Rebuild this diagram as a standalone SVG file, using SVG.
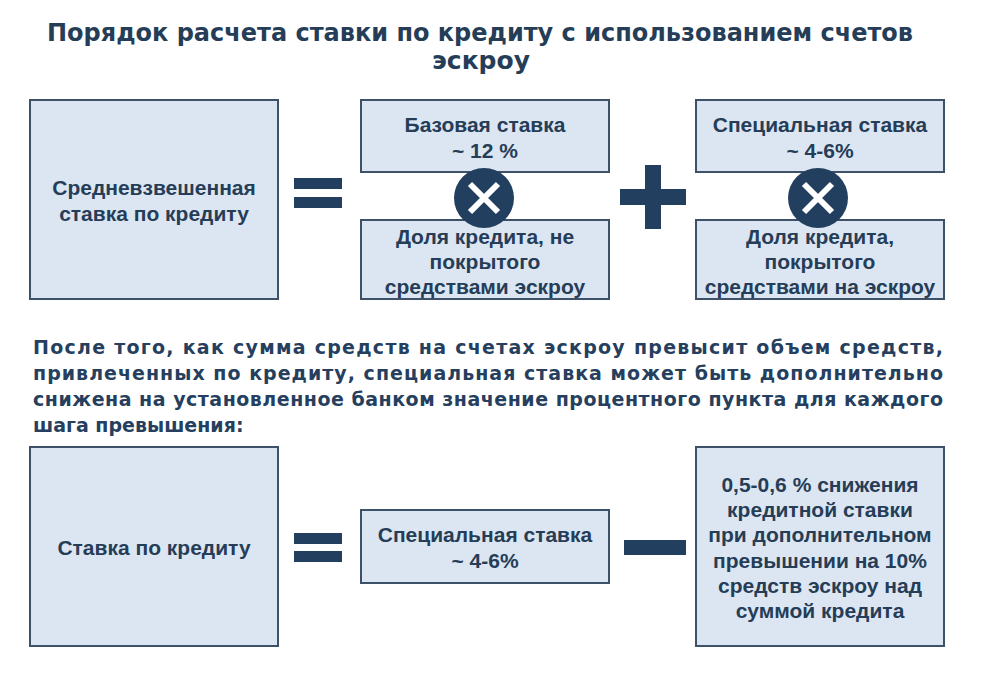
<svg xmlns="http://www.w3.org/2000/svg" width="989" height="688" viewBox="0 0 989 688">
<style>
.bx{fill:#dce6f2;stroke:#3d5169;stroke-width:2}
.bt{font-family:"Liberation Sans",Arial,sans-serif;font-weight:bold;font-size:21px;fill:#263d57;text-anchor:middle}
.ttl{font-family:"DejaVu Sans","Noto Sans",sans-serif;font-weight:bold;font-size:25px;fill:#263d57;text-anchor:middle}
.par{font-family:"DejaVu Sans","Noto Sans",sans-serif;font-weight:bold;font-size:19px;fill:#263f5e}
.op{fill:#223f5f}
.xx{stroke:#ffffff;stroke-width:6;stroke-linecap:butt}
</style>
<rect width="989" height="688" fill="#ffffff"/>
<g id="title">
<text class="ttl" x="480" y="41" textLength="866" lengthAdjust="spacingAndGlyphs">Порядок расчета ставки по кредиту с использованием счетов</text>
<text class="ttl" x="481" y="69">эскроу</text>
</g>
<g id="avg-rate">
<rect class="bx" x="30" y="100" width="248" height="199"/>
<text class="bt" x="154" y="195">Средневзвешенная</text>
<text class="bt" x="154" y="221">ставка по кредиту</text>
</g>
<g id="base-rate">
<rect class="bx" x="361" y="100" width="248" height="72"/>
<text class="bt" x="485" y="132">Базовая ставка</text>
<text class="bt" x="485" y="158">~ 12 %</text>
</g>
<g id="share-uncovered">
<rect class="bx" x="361" y="220" width="248" height="79"/>
<text class="bt" x="485" y="244">Доля кредита, не</text>
<text class="bt" x="485" y="269">покрытого</text>
<text class="bt" x="485" y="294">средствами эскроу</text>
</g>
<g id="special-rate">
<rect class="bx" x="696" y="100" width="248" height="72"/>
<text class="bt" x="820" y="132">Специальная ставка</text>
<text class="bt" x="820" y="158">~ 4-6%</text>
</g>
<g id="share-covered">
<rect class="bx" x="696" y="220" width="248" height="79"/>
<text class="bt" x="820" y="244">Доля кредита,</text>
<text class="bt" x="820" y="269">покрытого</text>
<text class="bt" x="820" y="294">средствами на эскроу</text>
</g>
<g id="paragraph">
<text class="par" x="33" y="354" textLength="910" lengthAdjust="spacing">После того, как сумма средств на счетах эскроу превысит объем средств,</text>
<text class="par" x="33" y="380" textLength="910" lengthAdjust="spacing">привлеченных по кредиту, специальная ставка может быть дополнительно</text>
<text class="par" x="33" y="406" textLength="910" lengthAdjust="spacing">снижена на установленное банком значение процентного пункта для каждого</text>
<text class="par" x="33" y="432">шага превышения:</text>
</g>
<g id="loan-rate">
<rect class="bx" x="30" y="447" width="248" height="199"/>
<text class="bt" x="154" y="555">Ставка по кредиту</text>
</g>
<g id="special-rate-2">
<rect class="bx" x="361" y="510" width="248" height="73"/>
<text class="bt" x="485" y="542">Специальная ставка</text>
<text class="bt" x="485" y="568">~ 4-6%</text>
</g>
<g id="reduction">
<rect class="bx" x="696" y="447" width="248" height="199"/>
<text class="bt" x="820" y="492">0,5-0,6 % снижения</text>
<text class="bt" x="820" y="517">кредитной ставки</text>
<text class="bt" x="820" y="542">при дополнительном</text>
<text class="bt" x="820" y="568">превышении на 10%</text>
<text class="bt" x="820" y="593">средств эскроу над</text>
<text class="bt" x="820" y="618">суммой кредита</text>
</g>
<g id="operators">
<rect class="op" x="294" y="178" width="48" height="11"/>
<rect class="op" x="294" y="197" width="48" height="11"/>
<circle class="op" cx="484" cy="198" r="30"/>
<path class="xx" d="M470 184L498 212M498 184L470 212"/>
<rect class="op" x="620" y="189" width="66" height="16"/>
<rect class="op" x="645" y="165" width="16" height="64"/>
<circle class="op" cx="818" cy="198" r="30"/>
<path class="xx" d="M804 184L832 212M832 184L804 212"/>
<rect class="op" x="294" y="533" width="48" height="11"/>
<rect class="op" x="294" y="551" width="48" height="11"/>
<rect class="op" x="624" y="540" width="62" height="15"/>
</g>
</svg>
